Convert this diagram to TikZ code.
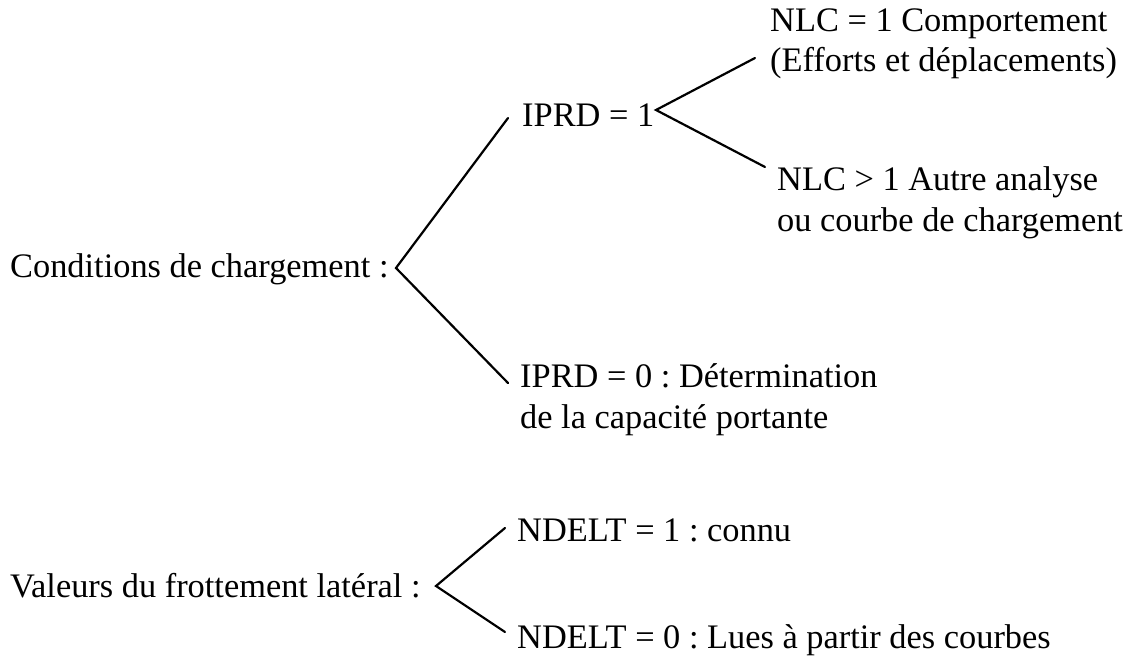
\documentclass[tikz,border=0pt]{standalone}
\usepackage{fontspec}
\setmainfont{Liberation Serif}
\frenchspacing
\begin{document}
\begin{tikzpicture}[x=1bp,y=-1bp,
  lbl/.style={inner sep=0pt, anchor=base west, font=\fontsize{34.5}{41}\selectfont, align=left},
  branch/.style={line width=2.2bp, line cap=round}]
\useasboundingbox (0,0) rectangle (1145,662);
% texts (anchor = baseline of the last line)
\node[lbl] (cond) at (10,277) {Conditions de chargement :};
\node[lbl] (iprdA) at (522,127) {IPRD = 1};
\node[lbl] (nlcA) at (770,72) {NLC = 1 Comportement\\(Efforts et déplacements)};
\node[lbl] (nlcB) at (777,231) {NLC > 1 Autre analyse\\ou courbe de chargement};
\node[lbl] (iprdB) at (520,428) {IPRD = 0 : Détermination\\de la capacité portante};
\node[lbl] (val) at (10,597) {Valeurs du frottement latéral :};
\node[lbl] (ndA) at (517,541) {NDELT = 1 : connu};
\node[lbl] (ndB) at (517,648) {NDELT = 0 : Lues à partir des courbes};
% fork points and branch ends
\coordinate (f1) at (396,268);
\coordinate (e1a) at (508,118);
\coordinate (e1b) at (508,383);
\coordinate (f2) at (656,110);
\coordinate (e2a) at (755,58);
\coordinate (e2b) at (765,167);
\coordinate (f3) at (436,586);
\coordinate (e3a) at (505,528);
\coordinate (e3b) at (505,632);
\draw[branch] (e1a) -- (f1) -- (e1b);
\draw[branch] (e2a) -- (f2) -- (e2b);
\draw[branch] (e3a) -- (f3) -- (e3b);
\end{tikzpicture}
\end{document}
